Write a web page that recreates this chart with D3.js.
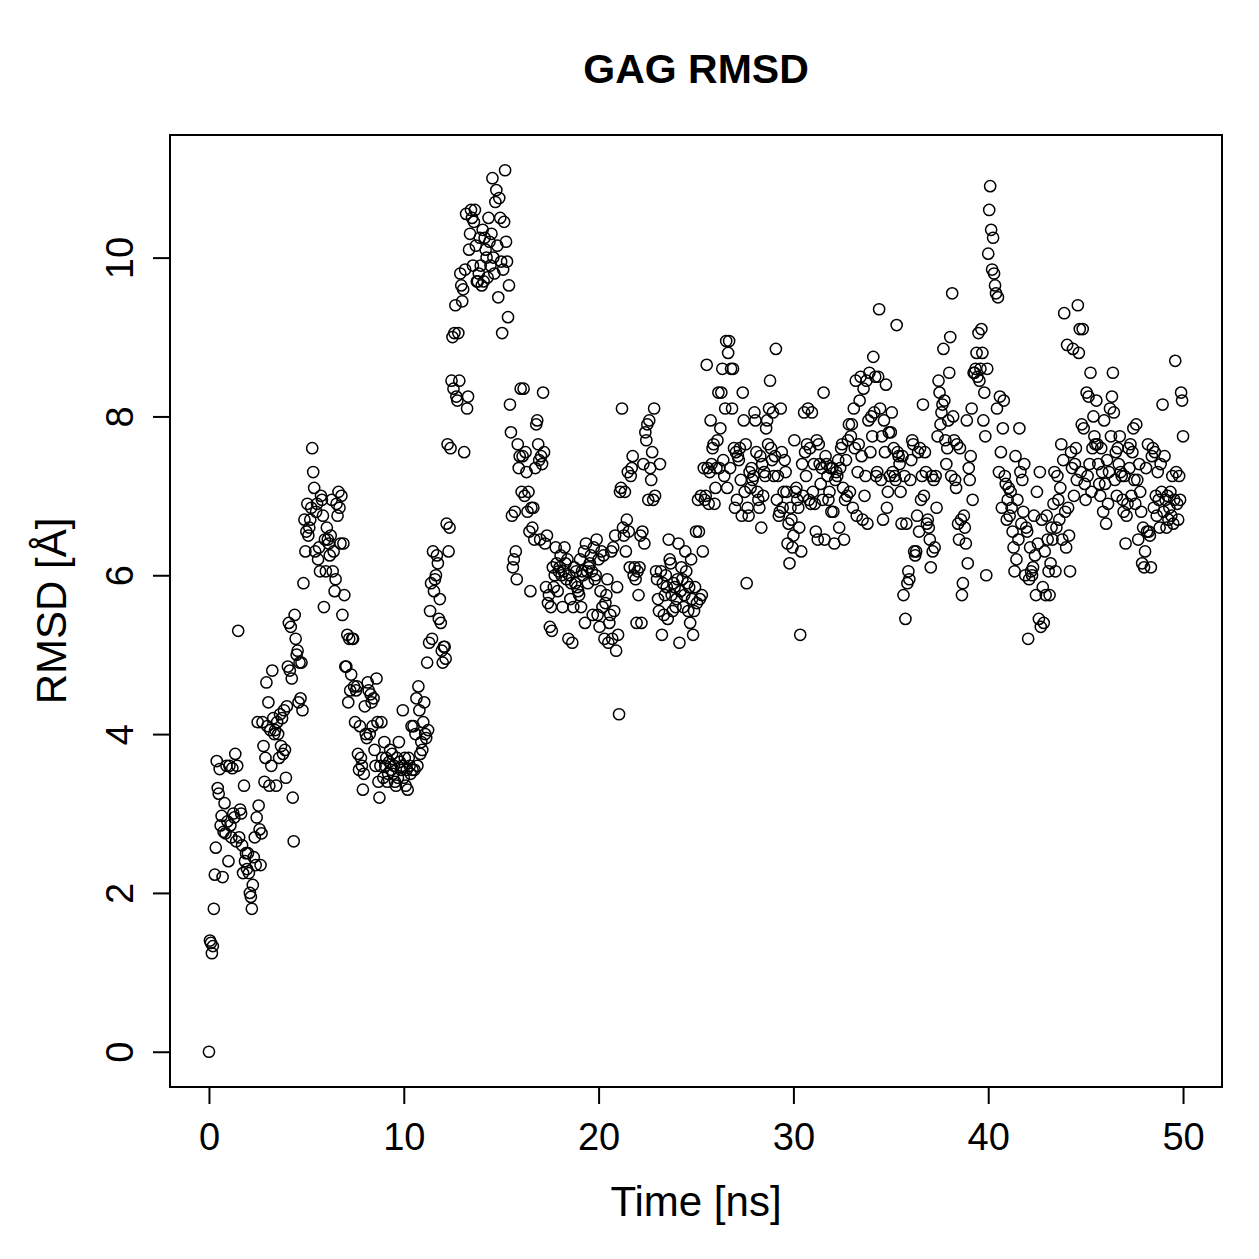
<!DOCTYPE html>
<html>
<head>
<meta charset="utf-8">
<script src="https://cdn.jsdelivr.net/npm/d3@7"></script>
<style>
  body { margin: 0; background: #fff; }
  svg { display: block; }
  text { font-family: "Liberation Sans", Arial, Helvetica, sans-serif; }
</style>
</head>
<body>
<script>
var TITLE = 'GAG RMSD'
var X_LABEL = 'Time [ns]'
var Y_LABEL = 'RMSD [Å]'
var TIME_STEP = 0.05   // ns between frames

var x_ticks = [0, 10, 20, 30, 40, 50]
var y_ticks = [0, 2, 4, 6, 8, 10]

// RMSD per frame, one row = 1 ns
var rmsd_00_10 = [
  0.00, 1.40, 1.37, 1.24, 1.33, 1.80, 2.23, 2.57, 3.66, 3.32, 3.25, 3.56, 2.85, 2.97, 2.20, 2.77, 3.13, 2.75, 3.60, 2.90,
  2.40, 3.60, 2.85, 2.70, 3.57, 3.00, 2.95, 3.75, 2.65, 3.60, 5.30, 2.70, 3.05, 3.00, 2.60, 2.25, 3.35, 2.40, 2.50, 2.30,
  2.50, 2.25, 2.00, 1.95, 1.80, 2.10, 2.45, 2.70, 2.35, 2.95, 4.15, 3.10, 2.80, 2.35, 2.75, 4.15, 3.85, 3.40, 3.70, 4.65,
  4.10, 4.40, 3.35, 4.05, 3.60, 4.80, 4.20, 4.00, 4.05, 3.35, 4.15, 4.00, 3.70, 4.25, 3.85, 4.20, 3.75, 4.30, 3.80, 3.45,
  4.35, 4.85, 5.40, 4.80, 5.35, 4.70, 3.20, 2.65, 5.50, 5.20, 5.00, 5.05, 4.40, 4.90, 4.45, 4.90, 4.30, 5.90, 6.70, 6.30,
  6.55, 6.90, 6.50, 6.60, 6.70, 6.85, 7.60, 7.30, 7.10, 6.30, 6.80, 6.90, 6.20, 6.35, 6.05, 7.00, 6.95, 6.75, 5.60, 6.45,
  6.05, 6.60, 6.45, 6.40, 6.25, 6.50, 6.95, 6.05, 6.30, 5.80, 5.95, 6.90, 6.75, 7.05, 6.85, 6.40, 7.00, 5.50, 6.40, 5.75,
  4.85, 4.85, 5.25, 4.40, 5.20, 4.55, 4.75, 5.20, 5.20, 4.60, 4.15, 4.55, 4.60, 3.75, 3.55, 4.10, 3.70, 3.60, 3.30, 3.50,
  4.35, 4.00, 3.95, 4.65, 4.55, 4.00, 4.50, 4.40, 4.10, 4.45, 3.80, 3.60, 4.70, 4.15, 3.40, 3.20, 3.60, 4.15, 3.70, 3.45,
  3.90, 3.60, 3.70, 3.40, 3.50, 3.65, 3.80, 3.55, 3.75, 3.50, 3.60, 3.40, 3.35, 3.70, 3.45, 3.90, 3.65, 3.55, 3.60, 4.30
]
var rmsd_10_20 = [
  3.45, 3.70, 3.35, 3.55, 3.30, 3.70, 3.60, 3.50, 4.10, 3.55, 4.10, 3.55, 4.00, 4.45, 3.60, 4.60, 4.30, 3.75, 3.90, 3.80,
  4.15, 4.40, 4.00, 3.95, 4.90, 4.05, 5.15, 5.55, 5.90, 5.20, 6.30, 5.80, 5.95, 6.00, 6.25, 6.15, 5.45, 5.70, 5.40, 5.05,
  4.90, 5.10, 5.10, 4.95, 6.65, 7.65, 6.30, 6.60, 7.60, 8.45, 9.00, 8.35, 9.05, 9.40, 8.25, 8.20, 9.05, 8.45, 9.80, 9.65,
  9.45, 9.60, 7.55, 9.85, 10.55, 8.10, 8.25, 10.10, 10.30, 10.60, 10.50, 9.90, 10.45, 10.60, 10.15, 9.70, 9.70, 9.80, 10.25, 9.90,
  9.65, 10.35, 9.70, 10.25, 10.10, 10.00, 9.75, 10.50, 10.20, 9.90, 10.30, 11.00, 10.00, 9.80, 10.70, 10.85, 10.15, 9.50, 10.75, 10.50,
  9.95, 9.05, 9.85, 10.45, 11.10, 10.20, 9.95, 9.25, 9.65, 8.15, 7.80, 6.75, 6.10, 6.20, 6.80, 6.30, 5.95, 7.65, 7.35, 7.50,
  8.35, 7.05, 7.50, 8.35, 7.00, 7.55, 7.30, 6.80, 7.05, 6.55, 5.80, 6.85, 6.60, 6.85, 6.45, 7.35, 7.90, 7.95, 7.65, 7.45,
  6.45, 7.50, 7.40, 8.30, 7.55, 6.40, 5.85, 6.50, 5.65, 5.75, 5.35, 5.60, 5.30, 6.10, 5.85, 6.00, 6.35, 6.15, 5.80, 6.05,
  6.10, 6.25, 6.00, 5.60, 6.05, 6.35, 6.15, 5.95, 6.20, 5.20, 6.00, 5.70, 5.90, 5.15, 5.60, 6.10, 5.90, 6.05, 5.85, 5.80,
  5.75, 6.20, 5.60, 6.05, 6.00, 6.30, 5.40, 6.40, 6.05, 5.90, 6.10, 6.15, 6.25, 6.05, 5.50, 6.35, 5.95, 6.00, 6.45, 5.50
]
var rmsd_20_30 = [
  6.20, 5.35, 5.80, 6.30, 5.60, 6.25, 5.20, 5.65, 5.75, 5.95, 5.15, 5.40, 5.50, 6.30, 5.20, 6.35, 5.55, 6.50, 5.05, 5.85,
  5.25, 4.25, 7.05, 7.10, 8.10, 6.60, 6.50, 7.05, 6.30, 6.70, 7.30, 6.55, 6.10, 7.25, 7.35, 7.50, 6.00, 6.10, 5.95, 5.40,
  6.05, 5.75, 6.10, 6.50, 5.40, 6.55, 7.40, 6.40, 7.80, 7.70, 7.90, 6.95, 7.95, 7.35, 7.20, 7.55, 6.95, 8.10, 7.00, 6.05,
  5.95, 5.70, 5.55, 7.40, 6.05, 5.25, 5.90, 5.50, 5.75, 6.00, 5.85, 5.45, 6.45, 6.20, 6.15, 5.75, 5.55, 5.90, 5.85, 5.60,
  5.70, 5.95, 6.40, 5.15, 5.80, 6.10, 5.95, 5.60, 5.75, 6.30, 6.05, 5.90, 5.55, 5.85, 5.40, 6.20, 5.70, 5.25, 5.55, 5.85,
  6.55, 5.65, 6.95, 6.55, 5.70, 7.00, 5.75, 6.30, 7.35, 6.95, 7.00, 8.65, 7.35, 6.90, 7.30, 7.95, 7.40, 7.60, 7.65, 6.90,
  7.10, 7.35, 7.70, 8.30, 7.35, 7.85, 8.30, 8.60, 7.45, 7.25, 8.10, 8.95, 7.10, 8.80, 8.95, 7.35, 8.60, 8.10, 8.60, 7.60,
  6.85, 7.55, 6.95, 7.50, 7.45, 7.60, 7.20, 6.75, 8.30, 7.95, 7.05, 7.65, 5.90, 6.85, 6.75, 7.30, 7.10, 7.35, 7.20, 7.25,
  8.05, 7.95, 7.55, 7.05, 6.95, 6.85, 7.50, 6.60, 7.40, 7.00, 7.30, 7.25, 7.85, 7.95, 7.65, 8.10, 8.45, 7.60, 7.45, 8.05,
  7.25, 7.50, 8.85, 6.95, 7.25, 6.75, 6.80, 8.10, 7.55, 6.85, 7.05, 7.45, 7.30, 7.05, 6.40, 6.65, 6.15, 6.85, 6.70, 6.35
]
var rmsd_30_40 = [
  6.50, 7.70, 7.05, 7.10, 6.95, 6.85, 6.60, 5.25, 6.30, 7.40, 7.00, 8.05, 7.55, 7.25, 7.65, 8.10, 6.95, 7.60, 6.90, 8.05,
  7.05, 7.40, 6.90, 6.55, 7.70, 6.45, 7.65, 7.40, 7.15, 7.35, 6.95, 8.30, 6.45, 7.50, 7.40, 7.25, 6.95, 7.05, 7.35, 6.80,
  7.35, 6.80, 6.40, 7.20, 7.30, 7.25, 7.45, 6.60, 7.35, 7.60, 7.65, 7.10, 6.45, 6.95, 7.45, 7.00, 7.70, 7.90, 7.05, 7.75,
  7.90, 6.85, 8.10, 7.60, 8.45, 6.75, 7.30, 7.65, 8.20, 8.50, 7.50, 6.70, 8.35, 7.00, 7.25, 8.45, 6.65, 7.95, 8.55, 7.55,
  8.00, 7.75, 8.75, 8.05, 8.50, 7.25, 7.30, 8.50, 9.35, 8.10, 7.20, 7.75, 6.70, 7.95, 7.55, 8.40, 6.85, 7.05, 7.80, 7.25,
  7.80, 8.05, 7.30, 7.60, 7.25, 7.20, 9.15, 7.55, 7.50, 7.40, 7.05, 6.65, 7.50, 5.75, 7.25, 5.45, 6.65, 5.90, 6.05, 5.95,
  7.20, 7.45, 7.70, 7.65, 6.30, 6.25, 6.30, 6.75, 7.55, 6.55, 7.60, 6.95, 7.25, 8.15, 7.00, 7.55, 7.30, 6.65, 6.70, 6.60,
  6.45, 6.10, 7.25, 6.30, 7.20, 6.35, 7.25, 6.85, 7.75, 8.45, 8.30, 7.90, 8.05, 8.15, 8.85, 8.20, 7.70, 7.40, 7.60, 7.95,
  8.55, 9.00, 7.25, 9.55, 8.00, 7.70, 7.20, 7.10, 7.65, 6.65, 6.45, 7.60, 6.70, 5.75, 5.90, 6.75, 6.60, 6.40, 7.95, 6.15,
  7.35, 7.20, 7.50, 8.10, 6.95, 8.55, 8.55, 8.60, 8.80, 8.50, 9.05, 8.45, 8.60, 9.10, 8.80, 7.95, 8.30, 7.75, 6.00, 8.60
]
var rmsd_40_50 = [
  10.05, 10.60, 10.90, 10.35, 9.85, 10.25, 9.80, 9.65, 9.55, 8.10, 9.50, 7.30, 8.25, 7.55, 6.85, 7.85, 8.20, 7.25, 7.15, 6.70,
  6.95, 7.10, 6.75, 7.05, 6.85, 6.55, 6.35, 6.05, 7.50, 6.20, 6.95, 6.45, 7.85, 7.30, 6.65, 7.20, 6.80, 7.40, 6.00, 6.60,
  6.55, 5.20, 5.95, 6.35, 6.05, 6.00, 6.10, 6.75, 6.25, 5.75, 7.05, 6.40, 5.45, 7.30, 5.35, 6.70, 5.85, 5.40, 6.30, 5.75,
  6.75, 6.45, 6.05, 5.75, 6.15, 6.60, 6.45, 6.90, 7.30, 6.05, 6.60, 7.25, 6.95, 6.70, 7.10, 7.65, 6.45, 7.45, 9.30, 6.80,
  6.35, 8.90, 6.85, 6.50, 6.05, 7.55, 7.35, 8.85, 7.00, 7.40, 7.60, 7.20, 9.40, 8.80, 9.10, 7.30, 7.90, 9.10, 7.85, 7.15,
  6.95, 8.30, 7.25, 8.25, 7.40, 8.55, 7.05, 7.60, 8.00, 7.75, 7.65, 8.20, 7.65, 7.40, 7.15, 7.00, 7.60, 7.30, 6.80, 7.95,
  7.15, 6.65, 7.45, 6.90, 7.30, 8.10, 7.75, 8.25, 8.55, 8.05, 7.20, 7.55, 7.00, 7.60, 7.40, 7.75, 7.30, 7.25, 6.95, 6.80,
  7.25, 6.40, 6.75, 6.90, 7.60, 7.35, 7.65, 7.00, 7.55, 7.85, 7.20, 6.90, 7.90, 7.20, 6.45, 7.40, 7.05, 6.80, 6.15, 6.60,
  6.10, 6.30, 7.35, 6.55, 7.65, 6.55, 6.50, 6.10, 7.50, 7.60, 6.85, 7.55, 7.00, 6.75, 7.30, 6.95, 6.60, 7.40, 7.05, 8.15,
  6.80, 7.50, 6.95, 6.60, 7.00, 6.70, 6.85, 7.05, 6.75, 7.25, 6.65, 6.95, 8.70, 7.30, 6.90, 6.70, 7.25, 6.95, 8.30, 8.20
]
var rmsd_last = [7.75]

var W = 1259, H = 1259
// plot region (the box R draws)
var box = { left: 170, right: 1222, top: 135, bottom: 1087 }

function build_points(){
  var rmsd = [].concat(rmsd_00_10, rmsd_10_20, rmsd_20_30, rmsd_30_40, rmsd_40_50, rmsd_last)
  return rmsd.map(function(v, i){ return { t: i * TIME_STEP, v: v } })
}

// R pads the data range by 4% on each side
function padded(lo, hi){
  var d = (hi - lo) * 0.04
  return [lo - d, hi + d]
}

function draw(){
  var points = build_points()
  var svg = d3.select('body').append('svg')
              .attr('width', W)
              .attr('height', H)

  svg.append('rect').attr('width', W).attr('height', H).attr('fill', '#fff')

  var x = d3.scaleLinear()
            .domain(padded(0, d3.max(points, function(d){ return d.t })))
            .range([box.left, box.right])
  var y = d3.scaleLinear()
            .domain(padded(0, d3.max(points, function(d){ return d.v })))
            .range([box.bottom, box.top])

  // points, pch = 1
  svg.append('g').selectAll('circle')
     .data(points)
     .enter()
     .append('circle')
     .attr('cx', function(d){ return x(d.t) })
     .attr('cy', function(d){ return y(d.v) })
     .attr('r', 5.6)
     .attr('fill', 'none')
     .attr('stroke', '#000')
     .attr('stroke-width', 1.5)

  var tick_font = 38
  var label_font = 42

  var xaxis = svg.append('g')
     .attr('transform', 'translate(0,' + box.bottom + ')')
     .call(d3.axisBottom(x).tickValues(x_ticks).tickSize(17).tickSizeOuter(0).tickPadding(0))
  xaxis.select('.domain').remove()
  xaxis.selectAll('line').attr('stroke-width', 2)
  xaxis.selectAll('text')
       .attr('y', 63)
       .attr('dy', null)
       .attr('font-size', tick_font)
       .attr('font-family', '"Liberation Sans", Arial, sans-serif')
       .attr('fill', '#000')

  var yaxis = svg.append('g')
     .attr('transform', 'translate(' + box.left + ',0)')
     .call(d3.axisLeft(y).tickValues(y_ticks).tickSize(17).tickSizeOuter(0))
  yaxis.select('.domain').remove()
  yaxis.selectAll('line').attr('stroke-width', 2)
  yaxis.selectAll('text')
       .attr('x', null)
       .attr('dy', null)
       .attr('transform', 'translate(-37,0) rotate(-90)')
       .attr('text-anchor', 'middle')
       .attr('font-size', tick_font)
       .attr('font-family', '"Liberation Sans", Arial, sans-serif')
       .attr('fill', '#000')

  // the box on top
  svg.append('rect')
     .attr('x', box.left).attr('y', box.top)
     .attr('width', box.right - box.left)
     .attr('height', box.bottom - box.top)
     .attr('fill', 'none')
     .attr('stroke', '#000')
     .attr('stroke-width', 2)

  svg.append('text')
     .text(TITLE)
     .attr('x', (box.left + box.right) / 2)
     .attr('y', 83)
     .attr('text-anchor', 'middle')
     .attr('font-weight', 'bold')
     .attr('font-size', 41)

  svg.append('text')
     .text(X_LABEL)
     .attr('x', (box.left + box.right) / 2)
     .attr('y', 1216)
     .attr('text-anchor', 'middle')
     .attr('font-size', label_font)

  svg.append('text')
     .text(Y_LABEL)
     .attr('transform', 'translate(66,' + (box.top + box.bottom) / 2 + ') rotate(-90)')
     .attr('text-anchor', 'middle')
     .attr('font-size', label_font)
}

draw()
</script>
</body>
</html>
